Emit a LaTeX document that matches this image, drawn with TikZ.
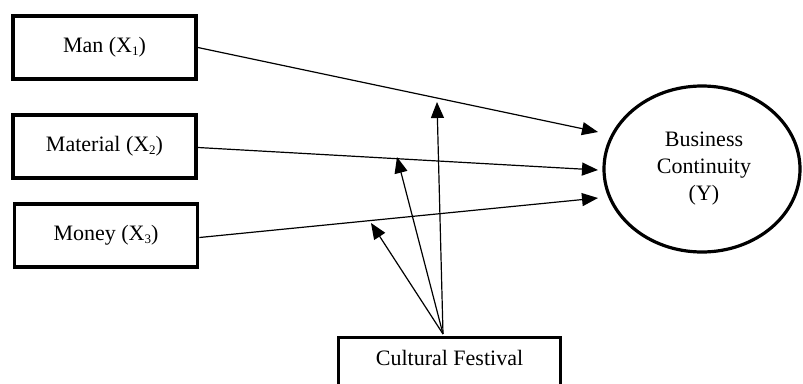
\documentclass[tikz,border=0pt]{standalone}
\usepackage{fontspec}
\setmainfont{Liberation Serif}
\usetikzlibrary{arrows.meta}
\newcommand{\mysub}[1]{\raisebox{-3pt}{\fontsize{13}{13}\selectfont #1}}
\begin{document}
\begin{tikzpicture}[x=1pt,y=-1pt,
  varbox/.style={draw=black, line width=3.8pt, minimum width=183pt, minimum height=63pt, inner sep=0pt, font=\fontsize{22}{26}\selectfont, fill=white},
  link/.style={line width=1.2pt, -{Triangle[length=16pt,width=13pt]}}
]
\useasboundingbox (0,0) rectangle (803,383);
\clip (0,0) rectangle (803,383);
\node[varbox] (man) at (104.5,47.5) {Man (X\mysub{1})};
\node[varbox] (mat) at (104.5,146.5) {Material (X\mysub{2})};
\node[varbox] (mon) at (106,235.5) {Money (X\mysub{3})};
\node[varbox, minimum width=222pt, minimum height=80pt, anchor=north] (cf) at (449.5,335.5) {};
\node[font=\fontsize{22}{26}\selectfont] (cft) at (449.5,358) {Cultural Festival};
\draw[line width=3.2pt] (702,169) ellipse [x radius=98, y radius=83];
\node[align=center, font=\fontsize{22}{27}\selectfont] (bc) at (704,169) {Business\\Continuity\\(Y)};
\coordinate (m1) at (598,132);
\coordinate (m2) at (598,170);
\coordinate (m3) at (598,198);
\coordinate (src) at (443,334);
\coordinate (c1) at (437,102);
\coordinate (c2) at (397,157);
\coordinate (c3) at (371,223);
\draw[link] (man.east) -- (m1);
\draw[link] ([yshift=-1pt]mat.east) -- (m2);
\draw[link] ([yshift=-2pt]mon.east) -- (m3);
\draw[link] (src) -- (c1);
\draw[link] (src) -- (c2);
\draw[link] (src) -- (c3);
\end{tikzpicture}
\end{document}
